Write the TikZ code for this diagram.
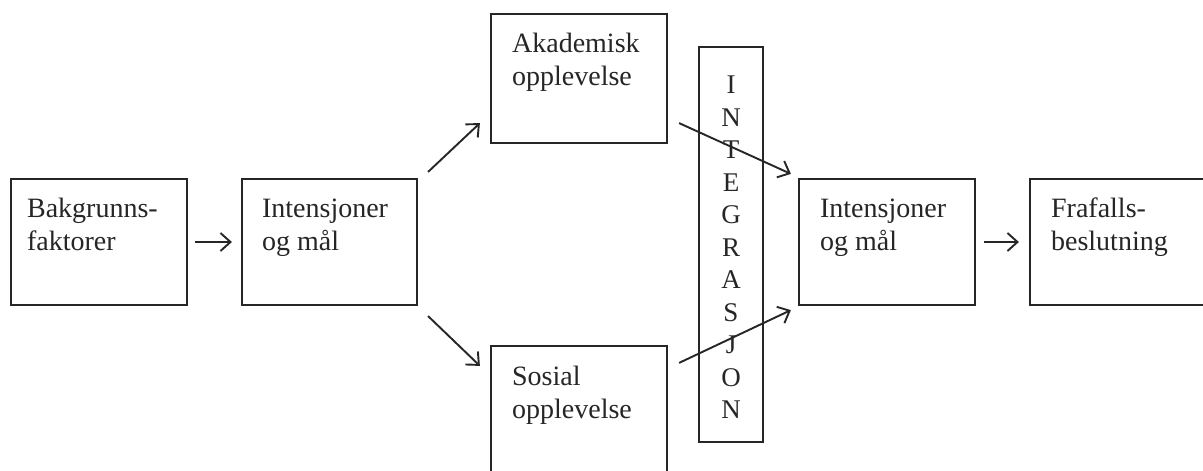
\documentclass[tikz,border=0pt]{standalone}
\usepackage{fontspec}
\setmainfont{Liberation Serif}
\usetikzlibrary{arrows.meta}
\definecolor{ink}{HTML}{262626}
\begin{document}
\begin{tikzpicture}[x=1pt,y=-1pt,
  boxnode/.style={draw=ink, line width=2.2pt, inner sep=0pt, minimum width=176pt, minimum height=126pt},
  txt/.style={anchor=base west, inner sep=0pt, align=left, text=ink, font=\fontsize{28}{33}\selectfont},
  arr/.style={draw=ink, line width=1.9pt, -{Straight Barb[length=10pt,width=18pt,line width=1.9pt]}}]
\useasboundingbox (0,0) rectangle (1203,471);
\fill[white] (0,0) rectangle (1203,471);
% boxes
\node[boxnode] (b1) at (99,242) {};
\node[boxnode, minimum width=175pt] (b2) at (329.5,242) {};
\node[boxnode, minimum height=129pt] (ak) at (579,78.5) {};
\node[boxnode, minimum height=140pt] (so) at (579,416) {};
\node[boxnode, minimum width=64pt, minimum height=395pt] (ig) at (731,244.5) {};
\node[boxnode] (b3) at (887,242) {};
\node[boxnode, minimum width=220pt] (fr) at (1140,242) {};
% texts (base anchor = baseline of last line)
\node[txt] (b1t) at ([shift={(17,73)}]b1.north west) {Bakgrunns-\\faktorer};
\node[txt] (b2t) at ([shift={(21,73)}]b2.north west) {Intensjoner\\og mål};
\node[txt] (akt) at ([shift={(22,73)}]ak.north west) {Akademisk\\opplevelse};
\node[txt] (sot) at ([shift={(22,74)}]so.north west) {Sosial\\opplevelse};
\node[txt] (b3t) at ([shift={(22,73)}]b3.north west) {Intensjoner\\og mål};
\node[txt] (frt) at ([shift={(22,73)}]fr.north west) {Frafalls-\\beslutning};
\node[anchor=base, inner sep=0pt, align=center, text=ink, font=\fontsize{27}{32.5}\selectfont] (igt) at ([shift={(0,373)}]ig.north)
  {I\\N\\T\\E\\G\\R\\A\\S\\J\\O\\N};
% connectors
\draw[arr] ([shift={(7,0)}]b1.east) -- ([shift={(-9,0)}]b2.west);
\draw[arr] ([shift={(8,0)}]b3.east) -- ([shift={(-10,0)}]fr.west);
\draw[arr] ([shift={(10,-6)}]b2.north east) -- ([shift={(-10,-21)}]ak.south west);
\draw[arr] ([shift={(10,10)}]b2.south east) -- ([shift={(-10,21)}]so.north west);
\draw[arr] ([shift={(11,-21)}]ak.south east) -- ([shift={(-7,-4)}]b3.north west);
\draw[arr] ([shift={(11,18)}]so.north east) -- ([shift={(-7,4)}]b3.south west);
\end{tikzpicture}
\end{document}
